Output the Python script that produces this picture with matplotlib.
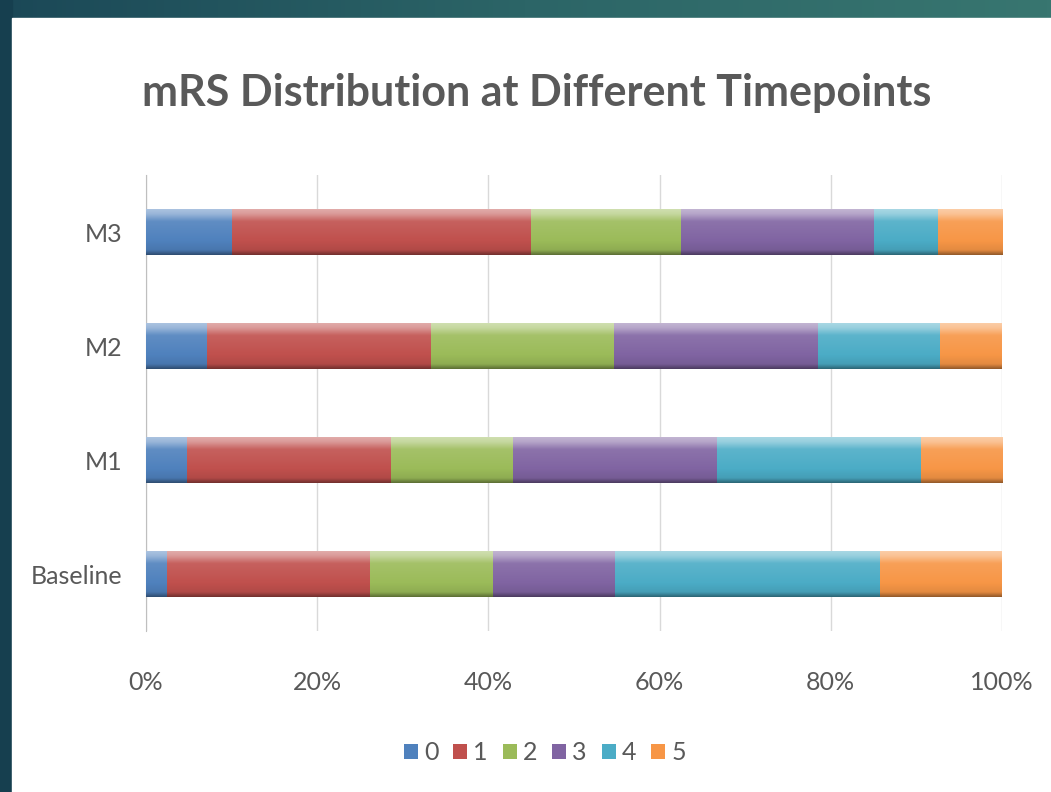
import matplotlib.pyplot as plt
import numpy as np
from matplotlib.colors import to_rgb, LinearSegmentedColormap
from matplotlib.patches import Rectangle

# data: share of patients per mRS score (%) at each timepoint
timepoints = ['Baseline', 'M1', 'M2', 'M3']
scores = ['0', '1', '2', '3', '4', '5']
mrs_0 = [2.4, 4.8, 7.1, 10.0]
mrs_1 = [23.8, 23.8, 26.2, 35.0]
mrs_2 = [14.3, 14.3, 21.4, 17.5]
mrs_3 = [14.3, 23.8, 23.8, 22.5]
mrs_4 = [31.0, 23.8, 14.3, 7.5]
mrs_5 = [14.2, 9.5, 7.2, 7.5]
series = [mrs_0, mrs_1, mrs_2, mrs_3, mrs_4, mrs_5]
colors = ['#4F81BD', '#C0504D', '#9BBB59', '#8064A2', '#4BACC6', '#F79646']

font = ['Lato', 'DejaVu Sans']
txt = '#595959'

fig = plt.figure(figsize=(10.51, 7.92), dpi=100)

# teal backdrop + white panel
bg = fig.add_axes([0, 0, 1, 1], zorder=-5)
grad = np.linspace(0, 1, 256)[None, :]
bg.imshow(grad, extent=[0, 1, 0, 1], aspect='auto', origin='lower',
          cmap=LinearSegmentedColormap.from_list('teal', ['#1b4857', '#2c6567', '#387670']))
bg.add_patch(Rectangle((12 / 1051, 0), 1, 1 - 18 / 792, color='white', zorder=2))
bg.add_patch(Rectangle((0, 0), 12 / 1051, 1, color='#163f4f', zorder=1))
bg.set_xlim(0, 1)
bg.set_ylim(0, 1)
bg.axis('off')

ax = fig.add_axes([146 / 1051, 1 - 631 / 792, 856 / 1051, 456 / 792])
ax.set_facecolor('none')

y = np.arange(len(timepoints))
h = 0.41
left = np.zeros(len(timepoints))


def shade(c):
    # vertical bevel: dark bottom edge, base body, bright top edge
    r = np.array(to_rgb(c))
    light = 1 - (1 - r) * 0.4
    dark = r * 0.6
    stops = np.linspace(0, 1, 64)
    prof = np.interp(stops, [0, 0.1, 0.3, 0.72, 0.88, 1.0], [0, 0.4, 0.5, 0.58, 0.85, 0.95])
    img = np.empty((64, 1, 3))
    for i, p in enumerate(prof):
        if p < 0.5:
            img[i, 0] = dark + (r - dark) * (p / 0.5)
        else:
            img[i, 0] = r + (light - r) * ((p - 0.5) / 0.5)
    return img


for vals, c, lab in zip(series, colors, scores):
    bars = ax.barh(y, vals, height=h, left=left, color=c, label=lab,
                   edgecolor='none', zorder=3)
    img = shade(c)
    for b in bars:
        x0, y0 = b.get_x(), b.get_y()
        im = ax.imshow(img, extent=[x0, x0 + b.get_width(), y0, y0 + b.get_height()],
                       origin='lower', aspect='auto', zorder=3.5, interpolation='bilinear')
        im.set_clip_path(b)
    left += np.array(vals)

ax.set_xlim(0, 100)
ax.set_ylim(-0.5, 3.5)
ax.set_xticks(np.arange(0, 101, 20))
ax.set_xticklabels([f'{v}%' for v in range(0, 101, 20)], family=font, fontsize=18, color=txt)
ax.set_yticks(y)
ax.set_yticklabels(timepoints, family=font, fontsize=18, color=txt)
ax.grid(axis='x', color='#d9d9d9', linewidth=1, zorder=0)
for s in ['top', 'right', 'bottom']:
    ax.spines[s].set_visible(False)
ax.spines['left'].set_color('#bfbfbf')
ax.tick_params(axis='y', length=0, pad=17)
ax.tick_params(axis='x', length=0, pad=29)

fig.text(537 / 1051, 1 - 93 / 792, 'mRS Distribution at Different Timepoints',
         ha='center', va='center', family=font, fontsize=31, fontweight='bold', color=txt)

handles, labels = ax.get_legend_handles_labels()
fig.legend(handles, labels, loc='center', bbox_to_anchor=(545 / 1051, 1 - 753 / 792),
           ncol=6, frameon=False, handlelength=0.55, handleheight=0.55, handletextpad=0.25,
           columnspacing=0.6, prop={'family': font, 'size': 18}, labelcolor=txt)

fig.savefig('out.png', dpi=100)
